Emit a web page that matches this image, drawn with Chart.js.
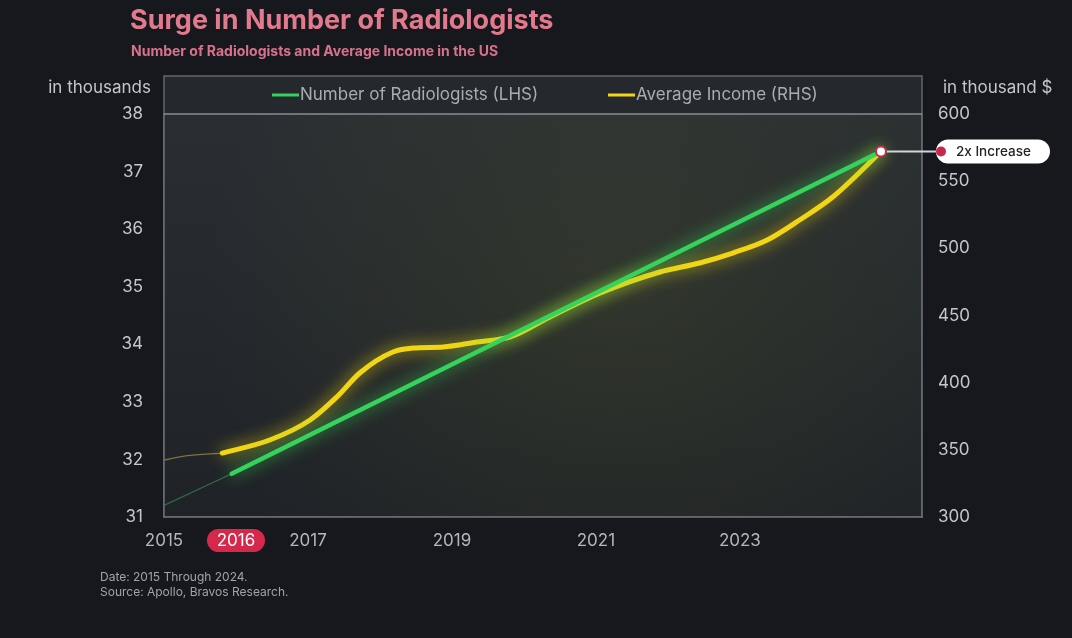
<!DOCTYPE html>
<html>
<head>
<meta charset="utf-8">
<script src="https://cdn.jsdelivr.net/npm/chart.js@4.4.1/dist/chart.umd.min.js"></script>
<style>
  html, body { margin: 0; padding: 0; background: #16181e; }
  #chart { display: block; }
</style>
</head>
<body>
<canvas id="chart" width="1072" height="638"></canvas>
<script>
// values (decimal years)
const xTicks = [2015, 2016, 2017, 2019, 2021, 2023];
const highlightYear = 2016;

const radiologistYears = [2015.94, 2024.96];
const radiologistValues = [31.75, 37.35];
const radiologistLeadYears = [2015, 2015.94];
const radiologistLeadValues = [31.2, 31.75];

const incomeYears = [2015.81, 2016.47, 2017.03, 2017.4, 2017.72, 2018.18, 2018.46, 2018.88, 2019.35, 2019.81, 2020.36, 2021.06, 2021.89, 2022.44, 2022.9, 2023.38, 2023.83, 2024.29, 2024.97];
const incomeValues = [347.6, 357.3, 372.2, 389.3, 407.2, 422.8, 425.8, 426.6, 430.3, 434.0, 448.9, 466.8, 482.4, 489.1, 496.5, 506.2, 521.1, 538.2, 572.5];
const incomeLeadYears = [2015, 2015.3, 2015.81];
const incomeLeadValues = [342.4, 345.5, 347.6];

const leftTicks = [31, 38];
const rightTicks = [300, 600];

const GREEN = '#35d35e';
const YELLOW = '#f3d613';
const FONT = 'Inter, "Noto Sans", sans-serif';

function pts(xs, ys) {
  return xs.map((x, i) => ({ x: x, y: ys[i] }));
}

const lastIdx = radiologistYears.length - 1;

const glowPlugin = {
  id: 'glow',
  beforeDatasetDraw(chart, args) {
    const ds = chart.data.datasets[args.index];
    const ctx = chart.ctx;
    ctx.save();
    if (ds.glow) {
      ctx.shadowColor = ds.glow;
      ctx.shadowBlur = 16;
    }
  },
  afterDatasetDraw(chart) {
    chart.ctx.restore();
  }
};

const framePlugin = {
  id: 'frame',
  beforeDraw(chart) {
    const ctx = chart.ctx;
    const a = chart.chartArea;
    ctx.save();
    ctx.fillStyle = '#16181e';
    ctx.fillRect(0, 0, chart.width, chart.height);

    // legend band
    ctx.fillStyle = '#25282d';
    ctx.fillRect(a.left, 76, a.right - a.left, a.top - 76);

    // plot background
    const g = ctx.createLinearGradient(0, a.top, 0, a.bottom);
    g.addColorStop(0, '#2a2e33');
    g.addColorStop(1, '#1f2227');
    ctx.fillStyle = g;
    ctx.fillRect(a.left, a.top, a.right - a.left, a.bottom - a.top);

    // soft glow around the lines
    const rg = ctx.createRadialGradient(620, 300, 10, 620, 300, 420);
    rg.addColorStop(0, 'rgba(150,170,40,0.10)');
    rg.addColorStop(1, 'rgba(150,170,40,0)');
    ctx.fillStyle = rg;
    ctx.fillRect(a.left, a.top, a.right - a.left, a.bottom - a.top);

    // highlighted year pill
    const xs = chart.scales.x;
    const px = xs.getPixelForValue(highlightYear);
    ctx.fillStyle = '#d5284a';
    ctx.beginPath();
    ctx.roundRect(px - 29, 529, 58, 23, 11.5);
    ctx.fill();
    ctx.restore();
  },
  afterDraw(chart) {
    const ctx = chart.ctx;
    const a = chart.chartArea;
    ctx.save();

    // frame and separator
    ctx.strokeStyle = '#62666c';
    ctx.lineWidth = 1.5;
    ctx.strokeRect(a.left, 76, a.right - a.left, a.bottom - 76);
    ctx.strokeStyle = '#8a8e93';
    ctx.beginPath();
    ctx.moveTo(a.left, a.top);
    ctx.lineTo(a.right, a.top);
    ctx.stroke();

    // legend
    ctx.font = '17px ' + FONT;
    ctx.textBaseline = 'middle';
    ctx.textAlign = 'left';
    const items = [
      { x: 272, color: GREEN, label: 'Number of Radiologists (LHS)' },
      { x: 608, color: YELLOW, label: 'Average Income (RHS)' }
    ];
    items.forEach(it => {
      ctx.strokeStyle = it.color;
      ctx.lineWidth = 3;
      ctx.beginPath();
      ctx.moveTo(it.x, 95);
      ctx.lineTo(it.x + 27, 95);
      ctx.stroke();
      ctx.fillStyle = '#a9adb2';
      ctx.fillText(it.label, it.x + 28, 95);
    });

    // axis captions
    ctx.fillStyle = '#c3c6cb';
    ctx.font = '17px ' + FONT;
    ctx.textAlign = 'right';
    ctx.fillText('in thousands', 151, 88);
    ctx.textAlign = 'left';
    ctx.fillText('in thousand $', 943, 88);

    // title + subtitle
    ctx.fillStyle = '#e27a8e';
    ctx.font = 'bold 27px ' + FONT;
    ctx.fillText('Surge in Number of Radiologists', 130, 21);
    ctx.font = 'bold 14px ' + FONT;
    ctx.fillStyle = '#d9718a';
    ctx.fillText('Number of Radiologists and Average Income in the US', 131, 52);

    // footer
    ctx.fillStyle = '#a0a3a8';
    ctx.font = '12px ' + FONT;
    ctx.fillText('Date: 2015 Through 2024.', 100, 577);
    ctx.fillText('Source: Apollo, Bravos Research.', 100, 592);

    // end annotation
    const meta = chart.getDatasetMeta(0);
    const pt = meta.data[lastIdx];
    const mx = pt.x, my = pt.y;
    ctx.strokeStyle = '#d2d5d9';
    ctx.lineWidth = 2;
    ctx.beginPath();
    ctx.moveTo(mx + 5, my);
    ctx.lineTo(941, my);
    ctx.stroke();
    ctx.fillStyle = '#ffffff';
    ctx.beginPath();
    ctx.roundRect(936, my - 12, 114, 24, 12);
    ctx.fill();
    ctx.fillStyle = '#c8264a';
    ctx.beginPath();
    ctx.arc(941, my, 5, 0, Math.PI * 2);
    ctx.fill();
    ctx.fillStyle = '#222428';
    ctx.font = '500 13.5px ' + FONT;
    ctx.fillText('2x Increase', 956, my + 1);

    // end marker on top
    ctx.fillStyle = '#ffffff';
    ctx.strokeStyle = '#c0304a';
    ctx.lineWidth = 2;
    ctx.beginPath();
    ctx.arc(mx, my, 5, 0, Math.PI * 2);
    ctx.fill();
    ctx.stroke();
    ctx.restore();
  }
};

new Chart(document.getElementById('chart'), {
  type: 'line',
  data: {
    datasets: [
      {
        label: 'Number of Radiologists (LHS)',
        data: pts(radiologistYears, radiologistValues),
        yAxisID: 'y',
        borderColor: GREEN,
        borderWidth: 4.5,
        borderCapStyle: 'round',
        glow: 'rgba(60,230,90,0.85)',
        pointRadius: 0,
        tension: 0
      },
      {
        label: 'Average Income (RHS)',
        data: pts(incomeYears, incomeValues),
        yAxisID: 'y1',
        borderColor: YELLOW,
        borderWidth: 5,
        borderCapStyle: 'round',
        glow: 'rgba(245,220,20,0.9)',
        pointRadius: 0,
        cubicInterpolationMode: 'monotone'
      },
      {
        label: 'lead-radiologists',
        data: pts(radiologistLeadYears, radiologistLeadValues),
        yAxisID: 'y',
        borderColor: 'rgba(60,140,80,0.7)',
        borderWidth: 1.2,
        pointRadius: 0,
        tension: 0
      },
      {
        label: 'lead-income',
        data: pts(incomeLeadYears, incomeLeadValues),
        yAxisID: 'y1',
        borderColor: 'rgba(150,135,70,0.8)',
        borderWidth: 1.2,
        pointRadius: 0,
        cubicInterpolationMode: 'monotone'
      }
    ]
  },
  options: {
    responsive: false,
    animation: false,
    layout: { padding: { top: 114, bottom: 81, left: 0, right: 0 } },
    plugins: {
      legend: { display: false },
      tooltip: { enabled: false }
    },
    scales: {
      x: {
        type: 'linear',
        min: 2015,
        max: 2025.53,
        afterBuildTicks: s => { s.ticks = xTicks.map(v => ({ value: v })); },
        afterFit: s => { s.height = 40; },
        grid: { display: false, drawTicks: false },
        border: { display: true, color: '#6a6e74', width: 1.5 },
        ticks: {
          padding: 14,
          font: { family: FONT, size: 17 },
          color: c => c.tick && c.tick.value === highlightYear ? '#ffffff' : '#b3b6bb',
          callback: v => String(v)
        }
      },
      y: {
        position: 'left',
        min: leftTicks[0],
        max: leftTicks[1],
        afterFit: s => { s.width = 164; },
        grid: { display: false, drawTicks: false },
        border: { display: true, color: '#6a6e74', width: 1.5 },
        ticks: {
          stepSize: 1,
          padding: 21,
          font: { family: FONT, size: 17 },
          color: '#c3c6cb'
        }
      },
      y1: {
        position: 'right',
        min: rightTicks[0],
        max: rightTicks[1],
        afterFit: s => { s.width = 150; },
        grid: { display: false, drawTicks: false },
        border: { display: true, color: '#6a6e74', width: 1.5 },
        ticks: {
          stepSize: 50,
          padding: 16,
          font: { family: FONT, size: 17 },
          color: '#c3c6cb'
        }
      }
    }
  },
  plugins: [glowPlugin, framePlugin]
});
</script>
</body>
</html>
